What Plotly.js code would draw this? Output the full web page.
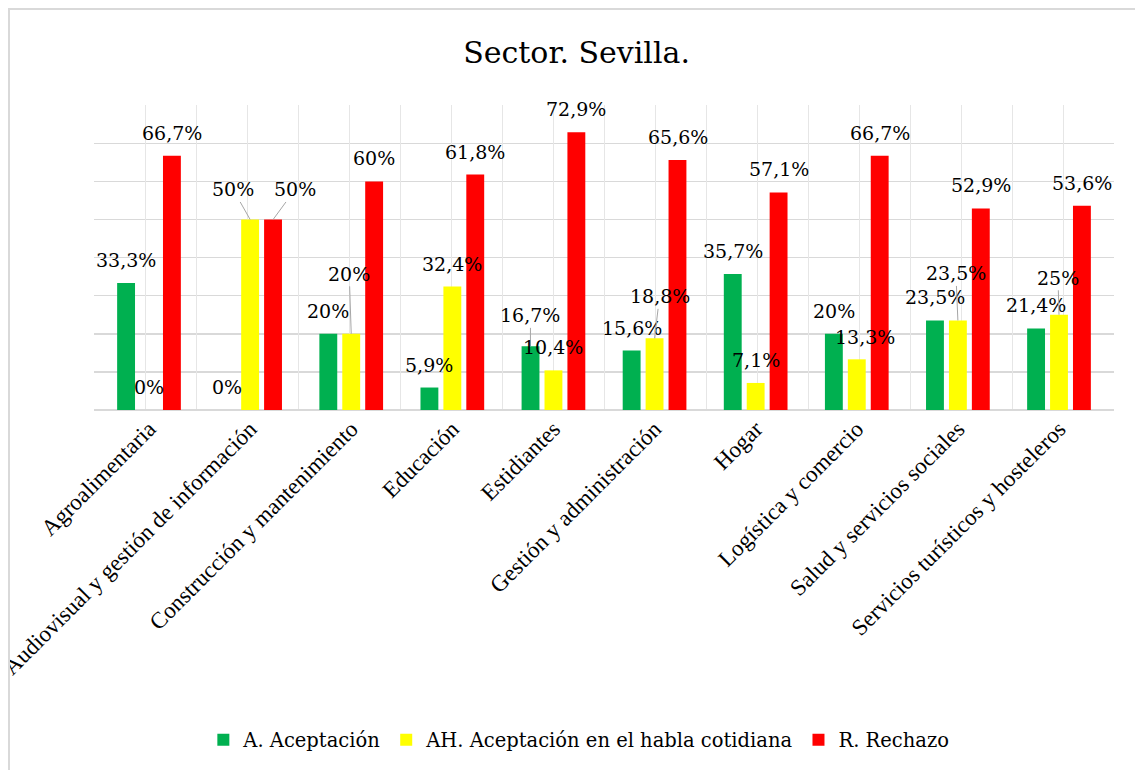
<!DOCTYPE html>
<html>
<head>
<meta charset="utf-8">
<script src="https://cdn.plot.ly/plotly-3.0.1.min.js"></script>
<style>
  html, body { margin: 0; padding: 0; background: #ffffff; overflow: hidden; }
  #chart { position: absolute; left: 0; top: 0; width: 1135px; height: 770px; }
  #mask { position: absolute; left: 0; top: 0; width: 8px; height: 770px; background: #ffffff; z-index: 2; }
  #frame { position: absolute; left: 8px; top: 8px; width: 2000px; height: 2000px;
           border-left: 2px solid #d9d9d9; border-top: 2px solid #d9d9d9; z-index: 3; pointer-events: none; }
</style>
</head>
<body>
<div id="chart"></div>
<div id="mask"></div>
<div id="frame"></div>
<script>
// ---- Data ----
const categories = [
  "Agroalimentaria",
  "Audiovisual y gestión de información",
  "Construcción y mantenimiento",
  "Educación",
  "Estidiantes",
  "Gestión y administración",
  "Hogar",
  "Logística y comercio",
  "Salud y servicios sociales",
  "Servicios turísticos y hosteleros"
];
const seriesNames = ["A. Aceptación", "AH. Aceptación en el habla cotidiana", "R. Rechazo"];
const aceptacion = [33.3, 0, 20, 5.9, 16.7, 15.6, 35.7, 20, 23.5, 21.4];
const aceptacionHabla = [0, 50, 20, 32.4, 10.4, 18.8, 7.1, 13.3, 23.5, 25];
const rechazo = [66.7, 50, 60, 61.8, 72.9, 65.6, 57.1, 66.7, 52.9, 53.6];

// ---- Styles ----
const colors = ["#00B050", "#FFFF00", "#FF0000"];
const FONT = "Liberation Serif";
const FONT_ALT = "DejaVu Serif";
const seriesShift = [-23, 0, 23];
const labelNudge = {
  "1-1": [-17, -30, true],
  "2-1": [22, -30, true],
  "1-2": [-2, -60, true],
  "0-4": [0, -31, true],
  "1-5": [5, -42, true],
  "1-7": [8, -22, false],
  "1-8": [-2, -47, true],
  "1-9": [-1, -37, true]
};

const allSeries = [aceptacion, aceptacionHabla, rechazo];
const fmt = v => String(v).replace('.', ',') + '%';

const traces = allSeries.map((vals, s) => ({
  type: 'bar',
  name: seriesNames[s],
  x: categories,
  y: vals,
  marker: { color: colors[s] },
  hoverinfo: 'skip'
}));
traces.push({ type: 'scatter', x: [], y: [], xaxis: 'x2', yaxis: 'y', showlegend: false, hoverinfo: 'skip' });

const annotations = [];
allSeries.forEach((vals, s) => {
  vals.forEach((v, i) => {
    const nudge = labelNudge[s + '-' + i];
    const base = {
      x: categories[i], y: v, xref: 'x', yref: 'y',
      text: fmt(v),
      font: { family: FONT_ALT, size: 19, color: '#000000' },
      xshift: seriesShift[s]
    };
    if (nudge && nudge[2]) {
      annotations.push(Object.assign(base, {
        showarrow: true, arrowhead: 0, arrowwidth: 1, arrowcolor: '#a6a6a6',
        ax: nudge[0], ay: nudge[1], standoff: 0
      }));
    } else {
      const dx = nudge ? nudge[0] : 0;
      const dy = nudge ? nudge[1] : -23;
      annotations.push(Object.assign(base, {
        showarrow: false, xanchor: 'center', yanchor: 'middle',
        xshift: seriesShift[s] + dx, yshift: -dy
      }));
    }
  });
});

const layout = {
  width: 1135,
  height: 770,
  paper_bgcolor: '#ffffff',
  plot_bgcolor: '#ffffff',
  margin: { l: 94, r: 21, t: 105, b: 360, autoexpand: false },
  font: { family: FONT, size: 22, color: '#000000' },
  title: {
    text: 'Sector. Sevilla.',
    font: { family: FONT_ALT, size: 30, color: '#000000' },
    x: 0.508, xref: 'container', xanchor: 'center',
    y: 0.932, yref: 'container', yanchor: 'middle'
  },
  barmode: 'group',
  bargap: 0.32,
  bargroupgap: 0.22,
  xaxis: {
    type: 'category',
    tickangle: -45,
    showgrid: false,
    showline: false,
    ticks: '',
    tickfont: { family: FONT, size: 23, color: '#000000' },
    automargin: false
  },
  xaxis2: {
    overlaying: 'x',
    range: [-0.5, 9.5],
    tick0: -0.5,
    dtick: 0.5,
    showgrid: true,
    gridcolor: '#e6e6e6',
    gridwidth: 1,
    showticklabels: false,
    zeroline: false,
    ticks: '',
    fixedrange: true
  },
  yaxis: {
    range: [0, 80.05],
    tick0: 0,
    dtick: 10,
    showgrid: true,
    gridcolor: '#d9d9d9',
    gridwidth: 1.5,
    zeroline: true,
    zerolinecolor: '#d9d9d9',
    zerolinewidth: 2,
    showticklabels: false,
    ticks: '',
    showline: false
  },
  showlegend: true,
  legend: {
    orientation: 'h',
    xref: 'container', yref: 'container',
    x: 0.51, xanchor: 'center',
    y: 0.039, yanchor: 'middle',
    font: { family: FONT_ALT, size: 19.5, color: '#000000' },
    itemclick: false, itemdoubleclick: false
  },
  annotations: annotations
};

Plotly.newPlot('chart', traces, layout, { displayModeBar: false, staticPlot: true });
</script>
</body>
</html>
